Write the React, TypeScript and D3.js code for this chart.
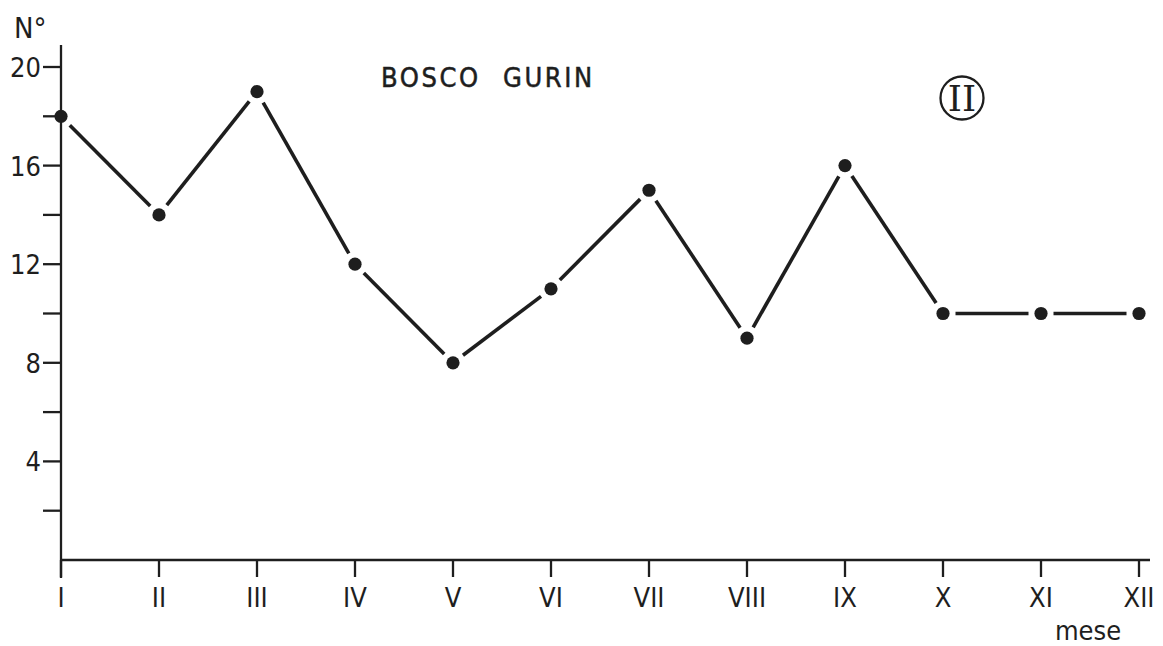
import React from "react";
import * as d3 from "d3";

const months = ["I", "II", "III", "IV", "V", "VI", "VII", "VIII", "IX", "X", "XI", "XII"];
const values = [18, 14, 19, 12, 8, 11, 15, 9, 16, 10, 10, 10];
const yMajorTicks = [4, 8, 12, 16, 20];
const yMinorTicks = [2, 6, 10, 14, 18];

const W = 1163;
const H = 646;
const FONT = "'DejaVu Sans Condensed', 'Liberation Sans Narrow', 'DejaVu Sans', sans-serif";
const INK = "#1e1e1e";

export default function App() {
  const x = d3.scalePoint<string>().domain(months).range([61, 1139]);
  const y = d3.scaleLinear().domain([0, 20]).range([560, 67]);
  const pts = months.map((m, i) => [x(m) as number, y(values[i])] as [number, number]);
  const gap = 12.5;
  const segs = pts.slice(1).map((p, i) => {
    const a = pts[i];
    const dx = p[0] - a[0];
    const dy = p[1] - a[1];
    const len = Math.hypot(dx, dy);
    const ux = dx / len;
    const uy = dy / len;
    return [a[0] + ux * gap, a[1] + uy * gap, p[0] - ux * gap, p[1] - uy * gap];
  });
  return (
    <svg width={W} height={H} style={{ position: "absolute", left: 0, top: 0, background: "#fff" }}>
      <rect width={W} height={H} fill="#fff" />
      {/* axes */}
      <line x1={61} y1={45} x2={61} y2={578} stroke={INK} strokeWidth={2.3} />
      <line x1={61} y1={560} x2={1150} y2={560} stroke={INK} strokeWidth={2.3} />
      {yMajorTicks.concat(yMinorTicks).map((t) => (
        <line key={"t" + t} x1={43} x2={61} y1={y(t)} y2={y(t)} stroke={INK} strokeWidth={2.3} />
      ))}
      {yMajorTicks.map((t) => (
        <text key={"l" + t} x={41} y={y(t) + 10} textAnchor="end" fontFamily={FONT} fontSize={27} fill={INK}>
          {t}
        </text>
      ))}
      {months.map((m) => (
        <g key={m}>
          <line x1={x(m)} x2={x(m)} y1={560} y2={577} stroke={INK} strokeWidth={2.3} />
          <text x={x(m)} y={607} textAnchor="middle" fontFamily={FONT} fontSize={27} fill={INK}>
            {m}
          </text>
        </g>
      ))}
      <text x={1088} y={640} textAnchor="middle" fontFamily={FONT} fontSize={27} fill={INK}>mese</text>
      <text x={14} y={38} fontFamily={FONT} fontSize={29} fill={INK}>N°</text>
      <text x={381} y={87} fontFamily={FONT} fontSize={27} fontWeight={500} fill={INK} letterSpacing={2.6} stroke={INK} strokeWidth={0.5}>BOSCO</text>
      <text x={503} y={87} fontFamily={FONT} fontSize={27} fontWeight={500} fill={INK} letterSpacing={2.6} stroke={INK} strokeWidth={0.5}>GURIN</text>
      <circle cx={962} cy={98} r={21.5} fill="none" stroke={INK} strokeWidth={2.3} />
      <text x={962} y={111} textAnchor="middle" fontFamily="'DejaVu Serif', 'Liberation Serif', serif" fontSize={36} fill={INK}>II</text>
      {/* data line */}
      {segs.map((s, i) => (
        <line key={"s" + i} x1={s[0]} y1={s[1]} x2={s[2]} y2={s[3]} stroke={INK} strokeWidth={3.6} />
      ))}
      {pts.map((p, i) => (
        <circle key={"p" + i} cx={p[0]} cy={p[1]} r={6.6} fill={INK} />
      ))}
    </svg>
  );
}
